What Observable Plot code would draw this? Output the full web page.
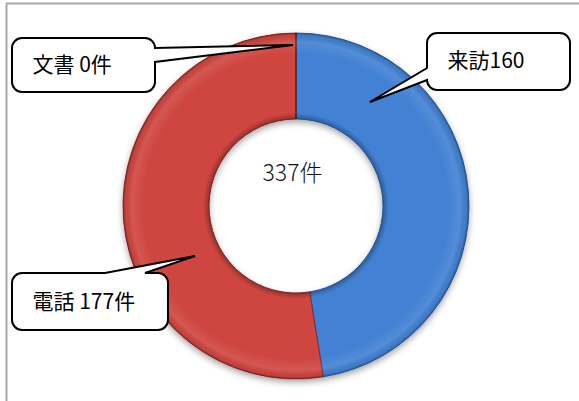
<!DOCTYPE html>
<html><head><meta charset="utf-8">
<script src="https://cdn.jsdelivr.net/npm/d3@7"></script>
<script src="https://cdn.jsdelivr.net/npm/@observablehq/plot@0.6"></script>
<style>body{margin:0;background:#fff}</style>
</head><body><div id="chart"></div>
<script>
// ---- data ----
const categories = ["来訪", "電話", "文書"];
const values = [160, 177, 0];
const labels = ["来訪160", "電話 177件", "文書 0件"];
const unit = "件";

// ---- styles ----
const colors = ["#4381d3", "#cf4541", "#9bbb59"];
const edgeColors = ["#2c5e9e", "#8a2826", "#4a2a2a"];
const fontFamily = "'Noto Sans CJK JP', 'Noto Sans', sans-serif";

// ---- layout (pixels) ----
const W = 579, H = 401;
const center = {x: 296, y: 206};
const outerR = 173, innerR = 87;
const callouts = [
  {box: [427, 33, 570, 90], side: "left", base: [68, 80], tip: [370, 102], text: [447, 61]},
  {box: [12, 273, 168, 330], side: "top", base: [105, 145], tip: [195, 256], text: [32, 302]},
  {box: [12, 38, 155, 92], side: "right", base: [48, 62], tip: [293, 45], text: [32, 65]}
];
const centerLabelPos = {x: 292, y: 173};

const slices = categories.map((c, i) => ({category: c, value: values[i], i}));
const labelData = labels.map((l, i) => ({label: l, x: callouts[i].text[0], y: callouts[i].text[1]}));
const total = d3.sum(values);

function donutMark(index, scales) {
  const cx = scales.x(center.x), cy = scales.y(center.y);
  const ro = Math.abs(scales.x(center.x + outerR) - cx);
  const ri = Math.abs(scales.x(center.x + innerR) - cx);
  const g = d3.create("svg:g");
  const defs = g.append("defs");
  const f = defs.append("filter").attr("id", "ringShadow").attr("x", "-20%").attr("y", "-20%").attr("width", "140%").attr("height", "140%");
  f.append("feDropShadow").attr("dx", 0).attr("dy", 3).attr("stdDeviation", 3).attr("flood-color", "#000").attr("flood-opacity", 0.35);
  const grad = defs.append("radialGradient").attr("id", "bevel").attr("gradientUnits", "userSpaceOnUse")
    .attr("cx", 0).attr("cy", 0).attr("r", ro);
  const k = ri / ro;
  [[k, "#000", 0.28], [k + 0.035, "#000", 0.0], [0.88, "#fff", 0.0], [0.95, "#fff", 0.1], [0.985, "#000", 0.05], [1, "#000", 0.3]]
    .forEach(([o, c, a]) => grad.append("stop").attr("offset", o).attr("stop-color", c).attr("stop-opacity", a));
  const pie = d3.pie().sort(null).value(d => d.value).startAngle(0).endAngle(2 * Math.PI)(slices);
  const arc = d3.arc().innerRadius(ri).outerRadius(ro);
  const ring = g.append("g").attr("transform", `translate(${cx},${cy})`);
  const sh = ring.append("g").attr("filter", "url(#ringShadow)");
  sh.selectAll("path").data(pie).join("path")
    .attr("d", arc).attr("fill", d => colors[d.data.i])
    .attr("stroke", d => edgeColors[d.data.i]).attr("stroke-width", 1);
  ring.append("path").attr("d", d3.arc().innerRadius(ri).outerRadius(ro)({startAngle: 0, endAngle: 2 * Math.PI}))
    .attr("fill", "url(#bevel)").attr("pointer-events", "none");
  return g.node();
}

function calloutMark(index, scales) {
  const g = d3.create("svg:g");
  const r = 10;
  callouts.forEach(c => {
    const x0 = scales.x(c.box[0]), x1 = scales.x(c.box[2]);
    const y0 = scales.y(c.box[1]), y1 = scales.y(c.box[3]);
    const tx = scales.x(c.tip[0]), ty = scales.y(c.tip[1]);
    let p = `M${x0 + r},${y0}`;
    if (c.side === "top") p += `H${scales.x(c.base[0])}L${tx},${ty}L${scales.x(c.base[1])},${y0}`;
    p += `H${x1 - r}A${r},${r} 0 0 1 ${x1},${y0 + r}`;
    if (c.side === "right") p += `V${scales.y(c.base[0])}L${tx},${ty}L${x1},${scales.y(c.base[1])}`;
    p += `V${y1 - r}A${r},${r} 0 0 1 ${x1 - r},${y1}H${x0 + r}A${r},${r} 0 0 1 ${x0},${y1 - r}`;
    if (c.side === "left") p += `V${scales.y(c.base[1])}L${tx},${ty}L${x0},${scales.y(c.base[0])}`;
    p += `V${y0 + r}A${r},${r} 0 0 1 ${x0 + r},${y0}Z`;
    g.append("path").attr("d", p).attr("fill", "#fff").attr("stroke", "#000")
      .attr("stroke-width", 2).attr("stroke-linejoin", "miter");
  });
  return g.node();
}

const chart = Plot.plot({
  width: W, height: H, margin: 0,
  x: {domain: [0, W], axis: null},
  y: {domain: [H, 0], axis: null},
  style: {fontFamily, background: "#fff"},
  marks: [
    Plot.ruleY([3], {x1: 6, x2: W, stroke: "#a8a8a8", strokeWidth: 2}),
    Plot.ruleX([6], {y1: 3, y2: H, stroke: "#a8a8a8", strokeWidth: 2}),
    donutMark,
    calloutMark,
    Plot.text(labelData, {x: "x", y: "y", text: "label", textAnchor: "start", lineAnchor: "middle",
      fontSize: 21, fill: "#000", fontFamily}),
    Plot.text([`${total}${unit}`], {x: centerLabelPos.x, y: centerLabelPos.y, text: d => d,
      fontSize: 23, fill: "#111", fontWeight: 300, fontFamily})
  ]
});
document.getElementById("chart").appendChild(chart);
</script>
</body></html>
